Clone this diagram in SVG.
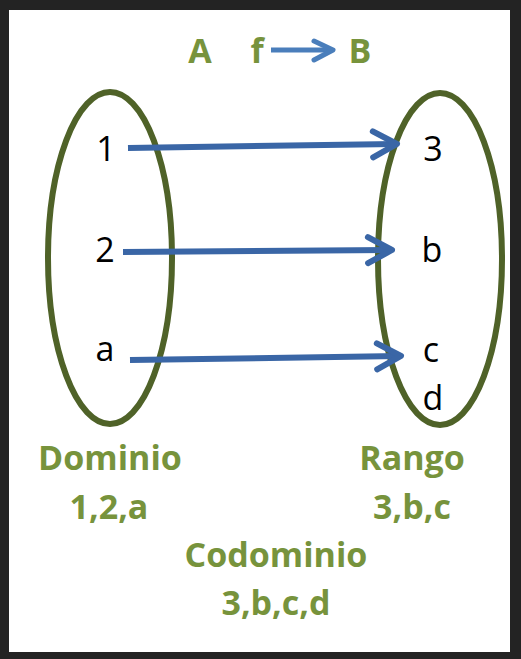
<svg xmlns="http://www.w3.org/2000/svg" width="521" height="659" viewBox="0 0 521 659">
<style>
.g{font-family:"Open Sans","Liberation Sans",sans-serif;font-weight:bold;font-size:34px;fill:#77933c;text-anchor:middle}
.k{font-family:"Open Sans","Liberation Sans",sans-serif;font-size:34px;fill:#000;text-anchor:middle}
.set{fill:none;stroke:#4f6228;stroke-width:6}
.conn{fill:none;stroke:#3a66a6;stroke-width:6;marker-end:url(#ah)}
</style>
<defs>
<marker id="ah" markerUnits="userSpaceOnUse" orient="auto" overflow="visible" markerWidth="30" markerHeight="30">
<path d="M-22,-13 L2,0 L-22,13" fill="none" stroke="#3a66a6" stroke-width="6" stroke-linecap="round" stroke-linejoin="round"/>
</marker>
</defs>
<rect x="0" y="0" width="521" height="659" fill="#232323"/>
<rect x="9" y="10" width="501" height="642" fill="#ffffff"/>
<g id="title">
<text class="g" x="200" y="63">A</text>
<text class="g" x="257" y="63">f</text>
<path d="M271,50 L330,50" stroke="#4a7ebb" stroke-width="5" fill="none"/>
<path d="M314,41 L333,50 L314,60" stroke="#4a7ebb" stroke-width="5" fill="none" stroke-linecap="round" stroke-linejoin="round"/>
<text class="g" x="360" y="63">B</text>
</g>
<g id="setA">
<ellipse class="set" cx="110" cy="258" rx="62" ry="166"/>
<text class="k" x="106" y="161">1</text>
<text class="k" x="105" y="262">2</text>
<text class="k" x="105" y="361">a</text>
</g>
<g id="setB">
<ellipse class="set" cx="440" cy="259" rx="62" ry="166"/>
<text class="k" x="433" y="161">3</text>
<text class="k" x="432" y="262">b</text>
<text class="k" x="431" y="362">c</text>
<text class="k" x="433" y="410">d</text>
</g>
<g id="connectors">
<path class="conn" d="M128,148 L395,144"/>
<path class="conn" d="M123,252 L390,250"/>
<path class="conn" d="M130,360 L399,356"/>
</g>
<g id="dominio">
<text class="g" x="110" y="470">Dominio</text>
<text class="g" x="109" y="519">1,2,a</text>
</g>
<g id="rango">
<text class="g" x="412" y="470">Rango</text>
<text class="g" x="412" y="519">3,b,c</text>
</g>
<g id="codominio">
<text class="g" x="276" y="567">Codominio</text>
<text class="g" x="276" y="615">3,b,c,d</text>
</g>
</svg>
